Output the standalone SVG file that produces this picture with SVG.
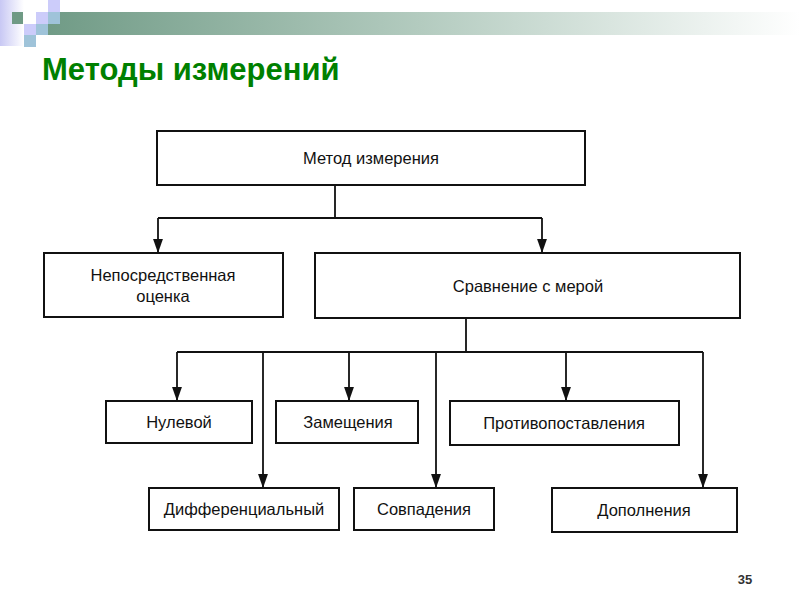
<svg xmlns="http://www.w3.org/2000/svg" width="800" height="600" viewBox="0 0 800 600">
<defs>
<linearGradient id="bar" x1="0" y1="0" x2="1" y2="0">
<stop offset="0" stop-color="#6f9a85"/>
<stop offset="0.5" stop-color="#b3cbbf"/>
<stop offset="1" stop-color="#ffffff"/>
</linearGradient>
<linearGradient id="lav" x1="0" y1="0" x2="1" y2="0">
<stop offset="0" stop-color="#c8c8f4"/>
<stop offset="1" stop-color="#ffffff"/>
</linearGradient>
<marker id="arr" markerUnits="userSpaceOnUse" markerWidth="14" markerHeight="18" refX="17" refY="6" orient="auto" viewBox="0 0 17 12">
<path d="M0,0 L17,6 L0,12 z" fill="#111"/>
</marker>
<style>
.box{fill:#fff;stroke:#111;stroke-width:2}
.lbl{font-family:"Liberation Sans",Arial,sans-serif;font-size:16.5px;fill:#111;text-anchor:middle}
.con{fill:none;stroke:#111;stroke-width:1.8}
</style>
</defs>
<rect width="800" height="600" fill="#fff"/>
<g id="header">
<rect x="0" y="0" width="24" height="46" fill="url(#lav)"/>
<rect x="40" y="12" width="760" height="23" fill="url(#bar)"/>
<rect x="12" y="12" width="11" height="12" fill="#6f9a85"/>
<rect x="48" y="0" width="12" height="12" fill="#ccccfa"/>
<rect x="36" y="12" width="12" height="12" fill="#ccccfa"/>
<rect x="48" y="12" width="12" height="12" fill="#9fc3d9"/>
<rect x="24" y="24" width="12" height="11" fill="#ccccfa"/>
<rect x="36" y="24" width="12" height="11" fill="#9fc3d9"/>
<rect x="24" y="35" width="12" height="12" fill="#9fc3d9"/>
</g>
<text x="42" y="80" font-family="Liberation Sans, Arial, sans-serif" font-size="31" font-weight="bold" fill="#008000">Методы измерений</text>
<g id="connectors">
<path class="con" d="M335,185 V218 M158,218 H542 M466,318 V352 M177,352 H703"/>
<path class="con" marker-end="url(#arr)" d="M158,218 V253"/>
<path class="con" marker-end="url(#arr)" d="M542,218 V253"/>
<path class="con" marker-end="url(#arr)" d="M177,352 V401"/>
<path class="con" marker-end="url(#arr)" d="M349,352 V401"/>
<path class="con" marker-end="url(#arr)" d="M566,352 V401"/>
<path class="con" marker-end="url(#arr)" d="M263,352 V488"/>
<path class="con" marker-end="url(#arr)" d="M436,352 V488"/>
<path class="con" marker-end="url(#arr)" d="M703,352 V488"/>
</g>
<g id="n-metod"><rect class="box" x="157" y="131" width="428" height="54"/><text class="lbl" x="371" y="164">Метод измерения</text></g>
<g id="n-neposr"><rect class="box" x="44" y="253" width="239" height="64"/><text class="lbl" x="163" y="281">Непосредственная</text><text class="lbl" x="163" y="302">оценка</text></g>
<g id="n-sravn"><rect class="box" x="315" y="253" width="425" height="65"/><text class="lbl" x="528" y="292">Сравнение с мерой</text></g>
<g id="n-nulevoy"><rect class="box" x="106" y="401" width="146" height="42"/><text class="lbl" x="179" y="428">Нулевой</text></g>
<g id="n-zamesch"><rect class="box" x="276" y="401" width="142" height="42"/><text class="lbl" x="348" y="428">Замещения</text></g>
<g id="n-protiv"><rect class="box" x="450" y="401" width="229" height="44"/><text class="lbl" x="564" y="429">Противопоставления</text></g>
<g id="n-diff"><rect class="box" x="149" y="488" width="190" height="42"/><text class="lbl" x="244" y="515">Дифференциальный</text></g>
<g id="n-sovpad"><rect class="box" x="354" y="488" width="140" height="42"/><text class="lbl" x="424" y="515">Совпадения</text></g>
<g id="n-dopoln"><rect class="box" x="552" y="488" width="185" height="44"/><text class="lbl" x="644" y="516">Дополнения</text></g>
<text x="745" y="584" font-family="Liberation Sans, Arial, sans-serif" font-size="13" font-weight="bold" fill="#333" text-anchor="middle">35</text>
</svg>
